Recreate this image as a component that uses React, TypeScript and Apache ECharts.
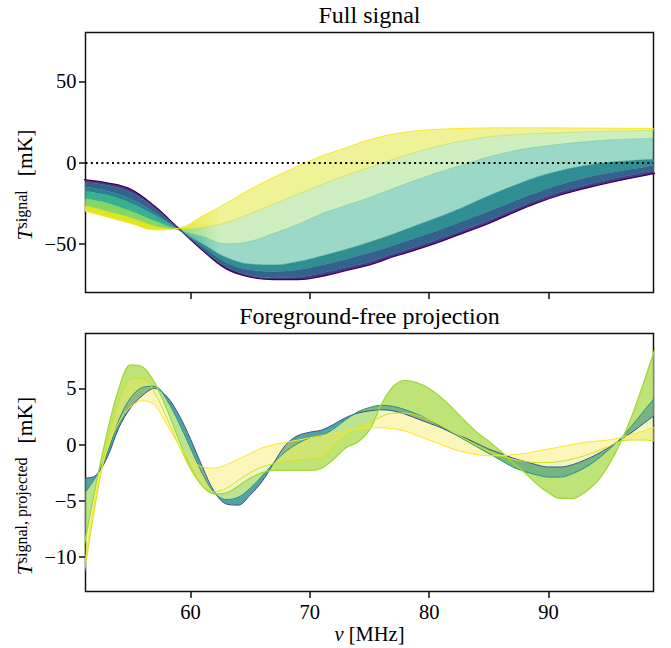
import React, { useEffect, useRef } from "react";
import * as echarts from "echarts";

// ---------- data ----------
// Top panel: frequencies (MHz) and seven representative curves of the family (mK)
const nuTop = [51, 53, 55, 57, 59, 61, 63, 65, 67, 69, 71, 73, 75, 77, 79, 81, 83, 85, 87, 89, 91, 93, 95, 97, 99];
const fullT000 = [-10.5, -12.5, -16.5, -27, -40.5, -54, -65.5, -70.5, -72, -72, -70, -66.5, -63, -58, -53.5, -48.5, -43, -37.5, -31, -25, -20, -16, -12.5, -9.5, -6.5];
const fullT025 = [-12, -14, -18.5, -28, -40.8, -53.5, -64, -69.5, -71, -70.5, -68, -64.5, -61, -56, -51.5, -46.5, -41, -35.5, -29, -23, -18, -14, -10.5, -7.5, -4.7];
const fullT040 = [-15, -17.5, -22.5, -31, -41.2, -51.5, -61.5, -66, -67, -66, -63, -59.5, -55.5, -51, -46, -41, -35.5, -30, -24, -18.5, -13.5, -9.5, -6.5, -4, -1.5];
const fullT050 = [-17.5, -20, -25, -32.5, -41.5, -50, -58.5, -62.5, -63, -61, -57.5, -53.5, -49, -44, -38.5, -33, -27, -20.5, -14.5, -9, -5, -2, 0, 1.2, 2];
const fullT070 = [-22, -25, -30, -36, -41.5, -45.5, -50, -48.5, -43.5, -38, -31.5, -26.5, -21.5, -16, -10.5, -5.5, -1, 3.5, 7, 9.5, 11.3, 12.7, 13.8, 14.5, 15];
const fullT085 = [-26, -30, -34, -39, -41, -40, -37, -31.5, -25.5, -19.5, -13.5, -8, -3, 2, 6.5, 10.5, 13.5, 15.8, 17, 17.8, 18.3, 18.8, 19.2, 19.5, 19.7];
const fullT100 = [-29.5, -33.5, -37.5, -41.5, -40.5, -33, -25, -16.5, -9, -2.3, 4, 9, 14, 17.5, 19.5, 20.5, 21, 21.3, 21.4, 21.4, 21.3, 21.2, 21.1, 21, 20.9];

// Bottom panel: frequencies (MHz) and five representative projected curves (mK)
const nuBot = [51, 52, 53, 54, 55, 56, 57, 58, 59, 60, 61, 62, 63, 64, 65, 66, 67, 68, 69, 70, 71, 72, 73, 74, 75, 76, 77, 78, 79, 80, 81, 82, 83, 84, 85, 86, 87, 88, 89, 90, 91, 92, 93, 94, 95, 96, 97, 98, 99];
const projDark = [
  -3.0, -2.8, -1.2, 1.5, 3.3, 4.4, 5.0, 4.3, 2.7, 0.5,
  -2.0, -4.2, -5.3, -5.4, -4.5, -3.3, -1.6, 0.0, 0.8, 1.1,
  1.3, 1.8, 2.4, 2.8, 3.0, 3.1, 3.0, 2.7, 2.3, 1.9,
  1.5, 1.0, 0.6, 0.1, -0.4, -0.8, -1.2, -1.5, -1.8, -2.0,
  -2.0, -1.8, -1.4, -0.9, -0.3, 0.4, 1.1, 1.9, 2.7,
];
const projTeal = [
  -4.5, -3.0, -0.8, 2.2, 4.2, 5.1, 5.2, 4.0, 2.0, -0.3,
  -2.6, -4.3, -4.9, -4.7, -3.9, -2.8, -1.6, -0.6, 0.1, 0.6,
  0.8, 1.4, 2.2, 2.9, 3.3, 3.5, 3.4, 3.1, 2.7, 2.2,
  1.6, 1.0, 0.4, -0.2, -0.8, -1.4, -2.0, -2.4, -2.7, -2.9,
  -2.9, -2.6, -2.1, -1.4, -0.5, 0.5, 1.7, 3.0, 4.3,
];
const projLime = [
  -9.5, -4.0, 1.0, 5.0, 7.1, 6.9, 5.5, 3.2, 0.5, -2.0,
  -3.7, -4.4, -4.3, -3.7, -3.0, -2.5, -2.3, -2.3, -2.3, -2.3,
  -2.1, -1.3, -0.3, 0.2, 1.3, 3.6, 5.2, 5.7, 5.5, 5.0,
  4.2, 3.2, 2.1, 1.1, 0.3, -0.6, -1.6, -2.5, -3.5, -4.3,
  -4.8, -4.8, -4.3, -3.4, -1.9, 0.1, 2.6, 5.6, 8.8,
];
const projYG = [
  -12.2, -5.5, 0.0, 3.8, 5.8, 5.9, 4.6, 2.4, 0.0, -2.2,
  -3.7, -4.2, -3.9, -3.2, -2.5, -2.0, -1.7, -1.5, -1.4, -1.3,
  -1.2, -0.2, 0.8, 1.5, 2.0, 2.5, 2.8, 2.8, 2.6, 2.2,
  1.7, 1.1, 0.5, -0.1, -0.6, -1.0, -1.3, -1.5, -1.6, -1.6,
  -1.5, -1.3, -1.0, -0.6, -0.2, 0.3, 0.4, 0.4, 0.3,
];
const projYellow = [
  -11.8, -4.8, -0.5, 2.0, 3.4, 3.9, 3.5, 1.8, 0.0, -1.3,
  -2.0, -2.1, -1.8, -1.3, -0.8, -0.3, 0.0, 0.2, 0.4, 0.6,
  0.8, 1.0, 1.2, 1.4, 1.5, 1.5, 1.4, 1.2, 0.8, 0.4,
  0.0, -0.4, -0.7, -0.9, -1.0, -1.0, -0.9, -0.8, -0.6, -0.4,
  -0.2, 0.0, 0.2, 0.3, 0.4, 0.6, 0.9, 1.2, 1.6,
];

// Tick labels
const xTicks = [60, 70, 80, 90];
const yTicksTop = [-50, 0, 50];
const yTicksBot = [-10, -5, 0, 5];

// ---------- styling helpers ----------
const FONT = "'Liberation Serif', 'Times New Roman', 'DejaVu Serif', serif";
const X_MIN = 51.2;
const X_MAX = 98.8;
const INK = "#111";

function hGrad(left: string, right: string) {
  return new echarts.graphic.LinearGradient(0, 0, 1, 0, [
    { offset: 0, color: left },
    { offset: 0.15, color: left },
    { offset: 0.24, color: right },
    { offset: 1, color: right },
  ]);
}

function curve(xs: number[], ys: number[], color: string, width: number, opacity: number, axis: number, smooth: number, extra: any = {}) {
  return {
    type: "line",
    xAxisIndex: axis,
    yAxisIndex: axis,
    data: xs.map((x, i) => [x, ys[i]]),
    symbol: "none",
    smooth,
    silent: true,
    z: 3,
    lineStyle: { color, width, opacity },
    ...extra,
  };
}

// filled ribbon between two curves (stacked: lower + (upper - lower))
function band(id: string, xs: number[], lo: number[], hi: number[], fill: any, axis: number, smooth: number) {
  const common = {
    type: "line",
    xAxisIndex: axis,
    yAxisIndex: axis,
    stack: id,
    stackStrategy: "all",
    encode: { x: 1, y: 0 },
    symbol: "none",
    smooth,
    silent: true,
    z: 2,
    lineStyle: { width: 0, opacity: 0 },
  };
  return [
    { ...common, data: xs.map((x, i) => [lo[i], x]) },
    { ...common, data: xs.map((x, i) => [hi[i] - lo[i], x]), areaStyle: { color: fill, opacity: 1 } },
  ];
}

const minus = (v: number) => String(v).replace("-", "\u2212");

function buildOption() {
  const sT = 0.4;
  const sB = 0.35;
  const topCurves = [fullT000, fullT025, fullT040, fullT050, fullT070, fullT085, fullT100];
  const topColors = ["#440154", "#3b528b", "#2c728e", "#21918c", "#44bf70", "#9fda3a", "#fde725"];
  const topOpac = [1, 0.6, 0.5, 0.45, 0.35, 0.45, 1];
  const topFills = [
    "#433e85",
    "#33638d",
    hGrad("rgba(38,130,142,1)", "rgba(37,137,141,0.95)"),
    hGrad("rgba(34,168,132,0.9)", "rgba(34,168,132,0.45)"),
    hGrad("rgba(122,209,81,0.9)", "rgba(122,209,81,0.36)"),
    hGrad("rgba(222,227,24,0.95)", "rgba(222,227,24,0.45)"),
  ];
  const botCurves = [projDark, projTeal, projLime, projYG, projYellow];
  const botColors = ["#3b528b", "#21918c", "#9fda3a", "#d2e21b", "#fde725"];
  const botFills = [
    "rgba(40,140,140,0.8)",
    "rgba(140,210,70,0.6)",
    "rgba(200,225,60,0.3)",
    "rgba(250,230,60,0.35)",
  ];

  const series: any[] = [];
  for (let k = 0; k < topCurves.length - 1; k++) {
    series.push(...band("top" + k, nuTop, topCurves[k], topCurves[k + 1], topFills[k], 0, sT));
  }
  for (let k = 0; k < botCurves.length - 1; k++) {
    series.push(...band("bot" + k, nuBot, botCurves[k], botCurves[k + 1], botFills[k], 1, sB));
  }
  topCurves.forEach((c, k) => {
    const extra =
      k === topCurves.length - 1
        ? {
            markLine: {
              silent: true,
              symbol: "none",
              label: { show: false },
              lineStyle: { color: "#000", type: [2, 3.3], width: 2 },
              data: [{ yAxis: 0 }],
              z: 5,
            },
          }
        : {};
    series.push(curve(nuTop, c, topColors[k], k === 0 ? 1.3 : 1, topOpac[k], 0, sT, extra));
  });
  botCurves.forEach((c, k) => {
    series.push(curve(nuBot, c, botColors[k], k === 2 ? 1.3 : 1, 1, 1, sB));
  });

  const xAxis = [0, 1].map((i) => ({
    type: "value",
    gridIndex: i,
    min: X_MIN,
    max: X_MAX,
    axisLine: { show: false, onZero: false },
    splitLine: { show: false },
    axisTick: { show: true, customValues: xTicks, length: 6.5, lineStyle: { color: INK, width: 1.5 } },
    axisLabel: {
      show: i === 1,
      customValues: xTicks,
      margin: 10,
      color: "#000",
      fontFamily: FONT,
      fontSize: 20.5,
      lineHeight: 20,
    },
  }));

  const yAxisBase = (i: number, min: number, max: number, ticks: number[]) => ({
    type: "value",
    gridIndex: i,
    min,
    max,
    axisLine: { show: false, onZero: false },
    splitLine: { show: false },
    axisTick: { show: true, customValues: ticks, length: 6.5, lineStyle: { color: INK, width: 1.5 } },
    axisLabel: {
      show: true,
      customValues: ticks,
      margin: 9,
      color: "#000",
      fontFamily: FONT,
      fontSize: 20.5,
      formatter: (v: number) => minus(v),
    },
  });

  const richY = {
    it: { fontFamily: FONT, fontStyle: "italic", fontSize: 21.5, lineHeight: 20, verticalAlign: "top", fill: "#000" },
    sub: { fontFamily: FONT, fontSize: 16, lineHeight: 28, verticalAlign: "top", fill: "#000" },
    n: { fontFamily: FONT, fontSize: 21.5, lineHeight: 20, verticalAlign: "top", fill: "#000", padding: [0, 0, 0, 14] },
  };

  return {
    animation: false,
    backgroundColor: "#fff",
    grid: [
      { left: 85.5, top: 32.5, width: 568, height: 260, show: true, borderColor: INK, borderWidth: 1.5, backgroundColor: "transparent" },
      { left: 85.5, top: 333.5, width: 568, height: 258, show: true, borderColor: INK, borderWidth: 1.5, backgroundColor: "transparent" },
    ],
    xAxis,
    yAxis: [yAxisBase(0, -80, 80, yTicksTop), yAxisBase(1, -13.1, 9.9, yTicksBot)],
    series,
    graphic: [
      {
        type: "text",
        x: 369.5,
        y: 14.8,
        style: { text: "Full signal", fill: "#000", fontFamily: FONT, fontSize: 24, align: "center", verticalAlign: "middle" },
      },
      {
        type: "text",
        x: 369.5,
        y: 315.8,
        style: { text: "Foreground-free projection", fill: "#000", fontFamily: FONT, fontSize: 24, align: "center", verticalAlign: "middle" },
      },
      {
        type: "text",
        x: 369.5,
        y: 634,
        style: {
          text: "{it|ν}{n| [MHz]}",
          align: "center",
          verticalAlign: "middle",
          rich: {
            it: { fontFamily: FONT, fontStyle: "italic", fontSize: 20.5, fill: "#000" },
            n: { fontFamily: FONT, fontSize: 20.5, fill: "#000" },
          },
        },
      },
      {
        type: "text",
        x: 27.5,
        y: 185,
        rotation: Math.PI / 2,
        style: { text: "{it|T}{sub|signal}{n|[mK]}", align: "center", verticalAlign: "middle", rich: richY },
      },
      {
        type: "text",
        x: 27.5,
        y: 486,
        rotation: Math.PI / 2,
        style: { text: "{it|T}{sub|signal, projected}{n|[mK]}", align: "center", verticalAlign: "middle", rich: richY },
      },
    ],
  };
}

export default function App() {
  const ref = useRef<HTMLDivElement>(null);
  useEffect(() => {
    if (!ref.current) return;
    const chart = echarts.init(ref.current, null, { renderer: "svg" });
    chart.setOption(buildOption() as any);
    return () => chart.dispose();
  }, []);
  return (
    <div
      ref={ref}
      style={{ position: "fixed", left: 0, top: 0, width: 671, height: 648, background: "#fff" }}
    />
  );
}
